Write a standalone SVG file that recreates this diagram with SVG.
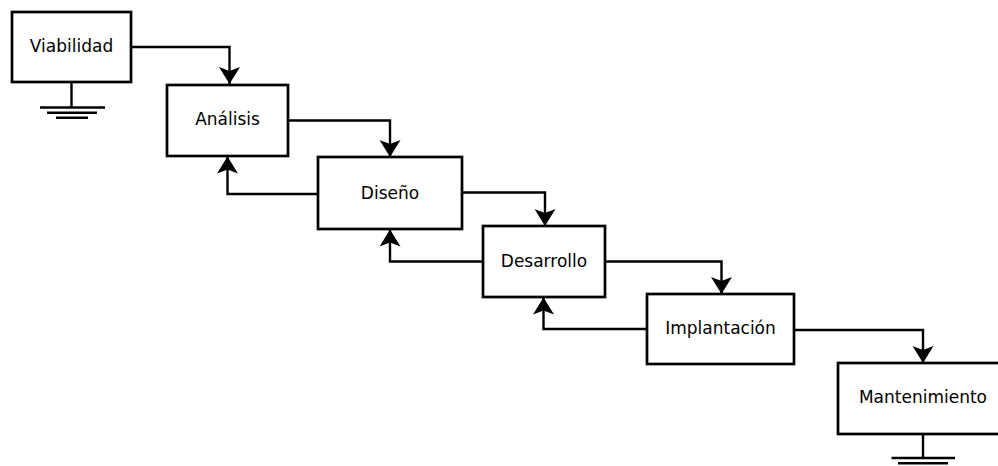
<svg xmlns="http://www.w3.org/2000/svg" width="998" height="466" viewBox="0 0 998 466">
<style>
.box{fill:#fff;stroke:#000;stroke-width:2.7}
.lbl{font-family:"DejaVu Sans",sans-serif;font-size:17px;fill:#000;text-anchor:middle}
.con{fill:none;stroke:#000;stroke-width:2.4}
.gnd{fill:none;stroke:#000;stroke-width:2.4}
</style>
<defs>
<marker id="arr" viewBox="0 0 17 21" refX="17" refY="10.5" markerWidth="17" markerHeight="21" markerUnits="userSpaceOnUse" orient="auto">
<path d="M17,10.5 L0,0 L4,10.5 L0,21 Z" fill="#000"/>
</marker>
</defs>
<rect width="998" height="466" fill="#fff"/>
<g id="connectors">
<path class="con" d="M131,47 H229.5 V84" marker-end="url(#arr)"/>
<path class="con" d="M288,120.5 H390 V157" marker-end="url(#arr)"/>
<path class="con" d="M318,194 H227.5 V156.5" marker-end="url(#arr)"/>
<path class="con" d="M462,192.5 H545 V226" marker-end="url(#arr)"/>
<path class="con" d="M483,261.5 H390 V229.5" marker-end="url(#arr)"/>
<path class="con" d="M605,261.5 H721.5 V294" marker-end="url(#arr)"/>
<path class="con" d="M647,329 H543.5 V297.5" marker-end="url(#arr)"/>
<path class="con" d="M794,330 H923 V363" marker-end="url(#arr)"/>
</g>
<g id="ground-viabilidad">
<path class="gnd" d="M71.5,82 V107.5 M40,107.5 H105 M47,112.7 H97 M56,117.8 H88"/>
</g>
<g id="ground-mantenimiento">
<path class="gnd" d="M923,434 V458 M891.5,458 H955 M898,463.2 H948"/>
</g>
<g id="viabilidad">
<rect class="box" x="12" y="12" width="119" height="70"/>
<text class="lbl" x="71.5" y="52">Viabilidad</text>
</g>
<g id="analisis">
<rect class="box" x="167" y="85" width="121" height="71"/>
<text class="lbl" x="227.5" y="125">Análisis</text>
</g>
<g id="diseno">
<rect class="box" x="318" y="157" width="144" height="72"/>
<text class="lbl" x="390" y="198.5">Diseño</text>
</g>
<g id="desarrollo">
<rect class="box" x="483" y="226" width="122" height="71"/>
<text class="lbl" x="544" y="266.5">Desarrollo</text>
</g>
<g id="implantacion">
<rect class="box" x="647" y="294" width="147" height="70"/>
<text class="lbl" x="720.5" y="334">Implantación</text>
</g>
<g id="mantenimiento">
<rect class="box" x="838" y="363" width="170" height="71"/>
<text class="lbl" x="923" y="403">Mantenimiento</text>
</g>
</svg>
